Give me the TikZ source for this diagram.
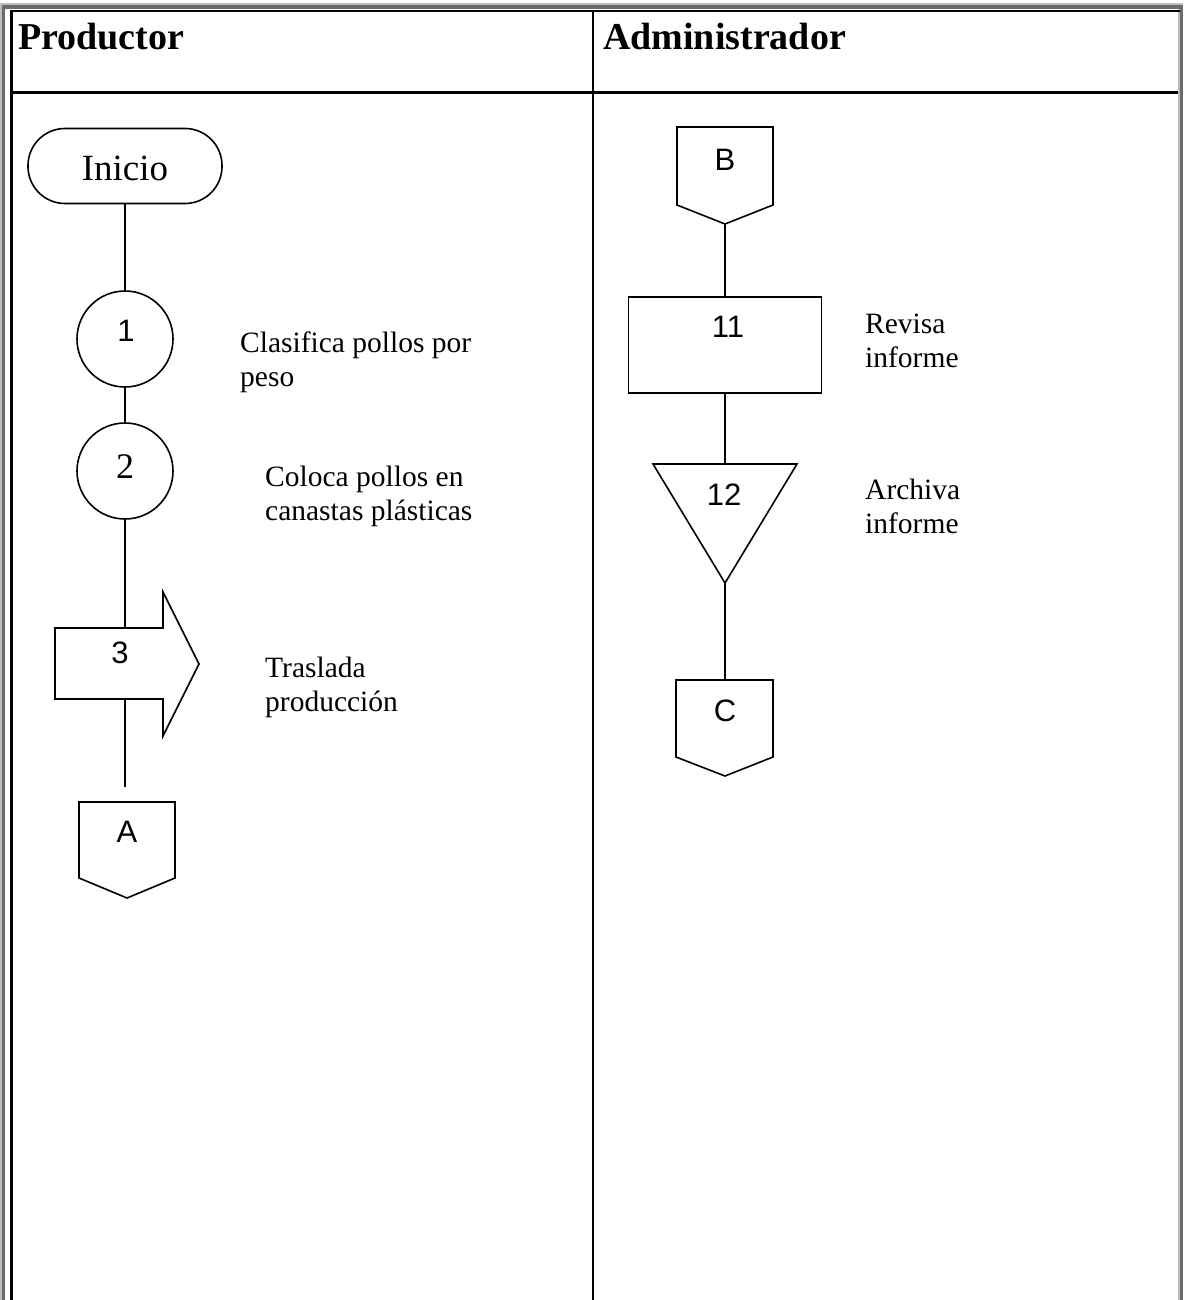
\documentclass[tikz,border=0pt]{standalone}
\usepackage{fontspec}
\setmainfont{Liberation Serif}
\setsansfont{Liberation Sans}
\usetikzlibrary{positioning}
\definecolor{bevellight}{HTML}{BDBDBD}
\definecolor{beveldark}{HTML}{6B6B6B}
\tikzset{
    rule/.style={line width=2.6pt},
    flow/.style={draw, line width=1.6pt},
    link/.style={line width=1.6pt},
    lane/.style={font=\bfseries\fontsize{38}{44}\selectfont, anchor=base west, inner sep=0pt},
    num/.style={font=\sffamily\fontsize{31}{36}\selectfont, inner sep=0pt},
    numrm/.style={font=\fontsize{36}{40}\selectfont, inner sep=0pt},
    desc/.style={font=\fontsize{29.5}{34}\selectfont, align=left, anchor=base west, inner sep=0pt}
}

\begin{document}
\begin{tikzpicture}[x=1pt,y=-1pt]
\useasboundingbox (0,0) rectangle (1183,1300);
% frame of the table
\fill[bevellight] (0,3) rectangle (1183,1300);
\fill[beveldark] (2,5) rectangle (1183,1300);
\fill[bevellight] (1178,9) rectangle (1180,1300);
\fill[white] (5,9) rectangle (1178,1300);
\draw[rule] (10,11) -- (1180,11);
\draw[rule] (11.3,11) -- (11.3,1300);
\draw[rule] (11.3,92.5) -- (1178,92.5);
\draw[rule] (593,11) -- (593,1300);
\node[lane] (prod) at (18,50) {Productor};
\node[lane] (admin) at (603,50) {Administrador};

% Productor
\node[flow, rounded corners=37pt, minimum width=194pt, minimum height=75pt] (inicio) at (125,166) {};
\node[font=\fontsize{37}{44}\selectfont, anchor=base, inner sep=0pt] (inicio-t) at (125,181) {Inicio};
\node[flow, circle, minimum size=96pt, inner sep=0pt] (c1) at (125,339) {};
\node[num] (n1) at (126,331) {1};
\node[flow, circle, minimum size=96pt, inner sep=0pt] (c2) at (125,471) {};
\node[numrm] (n2) at (125,467) {2};
\coordinate (t3top) at (125,628);
\coordinate (t3bot) at (125,699);
\draw[flow] (55,628) -- (t3top) -- (163,628) -- (163,592) -- (199,664) -- (163,736) -- (163,699) -- (t3bot) -- (55,699) -- cycle;
\node[num] (n3) at (120,653) {3};
\coordinate (aend) at (125,787);
\draw[flow] (79,802) -- (175,802) -- (175,878) -- (127,898) -- (79,878) -- cycle;
\node[num] (na) at (127,832) {A};

\draw[link] (inicio.south) -- (c1.north);
\draw[link] (c1.south) -- (c2.north);
\draw[link] (c2.south) -- (t3top);
\draw[link] (t3bot) -- (aend);

\node[desc] (d1) at (240,386) {Clasifica pollos por\\peso};
\node[desc] (d2) at (265,520) {Coloca pollos en\\canastas plásticas};
\node[desc] (d3) at (265,711) {Traslada\\producción};

% Administrador
\coordinate (bpt) at (725,224);
\draw[flow] (677,127) -- (773,127) -- (773,205) -- (bpt) -- (677,205) -- cycle;
\node[num] (nb) at (725,160) {B};
\node[flow, minimum width=193pt, minimum height=96pt, inner sep=0pt] (r11) at (725,345) {};
\node[num] (n11) at (728,327) {11};
\coordinate (t12top) at (725,464);
\coordinate (t12tip) at (725,583);
\draw[flow] (653,464) -- (797,464) -- (t12tip) -- cycle;
\node[num] (n12) at (724,495) {12};
\coordinate (ctop) at (725,680);
\draw[flow] (676,680) -- (773,680) -- (773,757) -- (725,776) -- (676,757) -- cycle;
\node[num] (nc) at (725,711) {C};

\draw[link] (bpt) -- (r11.north);
\draw[link] (r11.south) -- (t12top);
\draw[link] (t12tip) -- (ctop);

\node[desc] (d11) at (865,367) {Revisa\\informe};
\node[desc] (d12) at (865,533) {Archiva\\informe};
\end{tikzpicture}
\end{document}
